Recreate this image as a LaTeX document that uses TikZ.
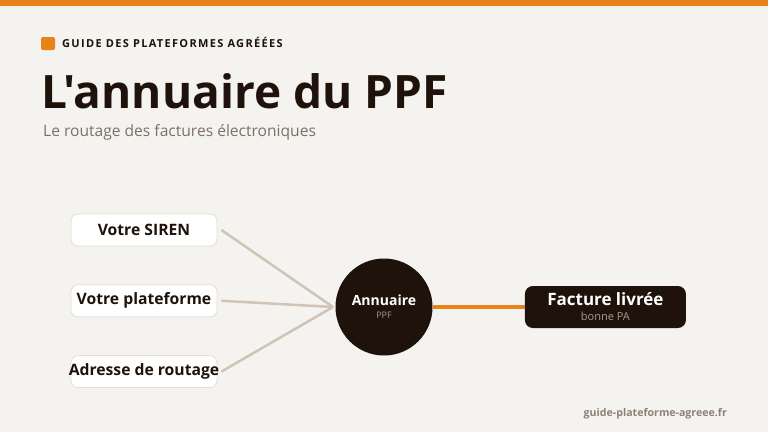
\documentclass[tikz,border=0pt]{standalone}
\usepackage{fontspec}
\setmainfont{Open Sans}
\usetikzlibrary{positioning}

\definecolor{pageback}{HTML}{F5F3EF}
\definecolor{brandorange}{HTML}{E8821A}
\definecolor{ink}{HTML}{1F120A}
\definecolor{subgray}{HTML}{7B7068}
\definecolor{footgray}{HTML}{8C8178}
\definecolor{boxline}{HTML}{E3DDD5}
\definecolor{linkgray}{HTML}{CFC4B5}
\definecolor{ppfgray}{HTML}{A89C90}

\begin{document}
\begin{tikzpicture}[x=1pt,y=-1pt]

%background
\fill[pageback] (0,0) rectangle (768,432);
\useasboundingbox (0,0) rectangle (768,432);
\fill[brandorange] (0,0) rectangle (768,6);

%styles
\tikzstyle{inputbox} = [draw=boxline, line width=0.8pt, rectangle, rounded corners=7pt, fill=white, minimum width=146pt, inner xsep=0pt, minimum height=32pt, font=\fontsize{15.7}{18}\selectfont\bfseries, text=ink]
\tikzstyle{hubnode} = [circle, fill=ink, minimum size=97pt, inner sep=0pt, align=center, text=white]
\tikzstyle{outbox} = [rectangle, rounded corners=8pt, fill=ink, minimum width=161pt, minimum height=42pt, inner sep=0pt, align=center, text=white]
\tikzstyle{link} = [draw=linkgray, line width=2.5pt]
\tikzstyle{mainlink} = [draw=brandorange, line width=4pt]

%header
\fill[brandorange, rounded corners=2pt] (41,37) rectangle (55,50);
\node (kicker) [anchor=base west, inner sep=0pt, text=ink] at (62,47)
  {\fontsize{11}{13}\selectfont\bfseries\addfontfeatures{LetterSpace=12}GUIDE DES PLATEFORMES AGRÉÉES};
\node (title) [anchor=base west, inner sep=0pt, text=ink] at (41,108)
  {\fontsize{46}{50}\selectfont\bfseries\addfontfeatures{Ligatures=TeXOff}L'annuaire du PPF};
\node (subtitle) [anchor=base west, inner sep=0pt, text=subgray] at (43,136)
  {\fontsize{15.6}{18}\selectfont Le routage des factures électroniques};

%inputs
\node (siren) [inputbox] at (144,230) {Votre SIREN};
\node (plateforme) [inputbox, below=38pt of siren] {Votre plateforme};
\node (adresse) [inputbox, below=38pt of plateforme] {\makebox[140pt]{Adresse de routage}};

%directory
\node (annuaire) [hubnode] at (384,307)
  {{\fontsize{14}{16}\selectfont\bfseries Annuaire}\\[1pt]{\fontsize{9}{11}\selectfont\color{ppfgray}PPF}};
\coordinate (hub) at (333,307);

%output
\node (facture) [outbox, right=92pt of annuaire]
  {{\fontsize{17}{19}\selectfont\bfseries Facture livrée}\\[3pt]{\fontsize{11}{13}\selectfont\color{ppfgray}bonne PA}};

%links
\draw[link] ([xshift=4pt]siren.east) -- (hub);
\draw[link] ([xshift=4pt]plateforme.east) -- (hub);
\draw[link] ([xshift=4pt]adresse.east) -- (hub);
\draw[mainlink] (annuaire.east) -- (facture.west);

%footer
\node (site) [anchor=base east, inner sep=0pt, text=footgray] at (727,416)
  {\fontsize{10.6}{13}\selectfont\bfseries guide-plateforme-agreee.fr};

\end{tikzpicture}
\end{document}
